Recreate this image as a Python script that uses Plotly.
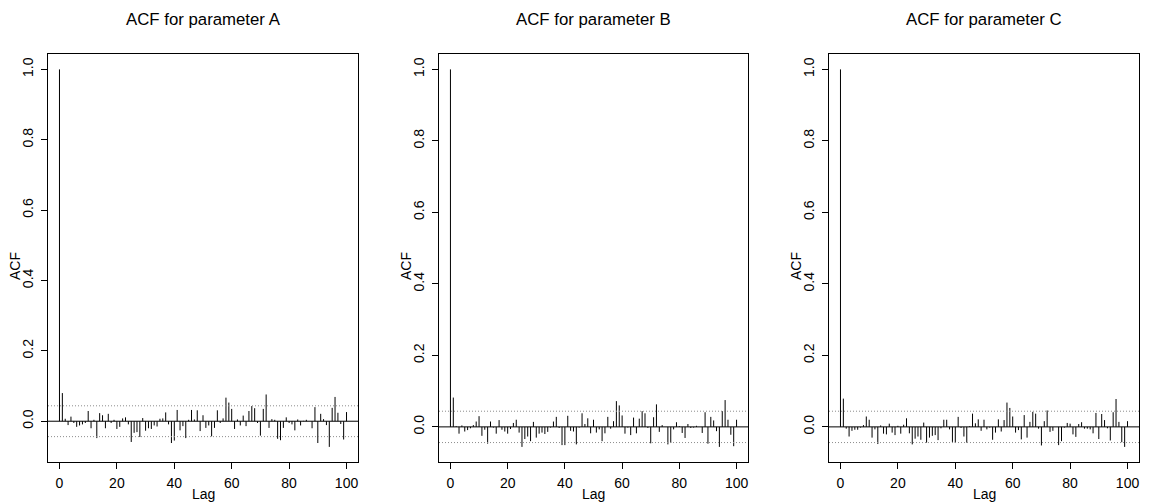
import plotly.graph_objects as go
import math

lags = list(range(0, 101))
n_obs = 2000

acf_a = [1.0, 0.080, 0.007, -0.011, 0.013, -0.005, -0.016, -0.012, -0.009, -0.005,
         0.029, -0.020, 0.004, -0.048, 0.023, 0.017, -0.020, 0.021, -0.005, 0.004,
         -0.022, -0.016, 0.008, 0.011, -0.009, -0.059, -0.033, -0.031, -0.045, 0.009,
         -0.027, -0.020, -0.022, -0.012, -0.015, 0.007, 0.008, 0.025, -0.009, -0.062,
         -0.055, 0.032, -0.026, -0.014, -0.048, 0.004, 0.032, 0.005, 0.031, -0.028,
         0.017, -0.019, -0.012, -0.043, -0.019, 0.031, -0.005, 0.008, 0.067, 0.053,
         0.035, -0.022, 0.005, -0.012, 0.016, -0.014, 0.029, 0.043, 0.037, -0.005,
         -0.041, 0.035, 0.076, -0.019, 0.006, 0.004, -0.050, -0.054, -0.019, 0.011,
         -0.005, -0.009, -0.026, 0.005, -0.012, 0.001, 0.004, 0.000, -0.020, 0.040,
         -0.062, 0.021, 0.006, -0.011, -0.073, 0.038, 0.069, 0.024, -0.008, -0.052,
         0.026]

acf_b = [1.0, 0.082, 0.002, -0.019, 0.004, -0.013, -0.009, -0.004, 0.005, 0.015,
         0.030, -0.025, -0.008, -0.047, 0.015, -0.002, -0.019, 0.019, -0.008, -0.013,
         -0.019, -0.006, 0.011, 0.020, -0.016, -0.056, -0.034, -0.027, -0.040, 0.014,
         -0.030, -0.019, -0.016, -0.020, -0.014, -0.002, 0.015, 0.028, -0.003, -0.051,
         -0.051, 0.031, -0.011, -0.013, -0.049, -0.002, 0.038, 0.008, 0.024, -0.018,
         0.020, -0.016, -0.007, -0.040, -0.018, 0.028, -0.005, 0.016, 0.072, 0.060,
         0.032, -0.019, -0.002, -0.023, 0.026, -0.018, 0.023, 0.044, 0.038, -0.003,
         -0.046, 0.027, 0.063, -0.014, 0.005, 0.000, -0.049, -0.045, -0.007, 0.013,
         0.002, -0.017, -0.031, 0.008, -0.003, -0.002, 0.003, 0.000, -0.017, 0.041,
         -0.047, 0.028, 0.018, -0.012, -0.056, 0.044, 0.075, 0.020, -0.022, -0.054,
         0.020]

acf_c = [1.0, 0.079, -0.005, -0.027, -0.011, -0.008, -0.008, -0.002, 0.005, 0.029,
         0.020, -0.030, -0.007, -0.048, 0.004, -0.019, -0.021, 0.009, -0.016, -0.023,
         0.003, -0.019, 0.006, 0.024, -0.018, -0.049, -0.033, -0.027, -0.036, 0.012,
         -0.044, -0.030, -0.025, -0.023, -0.037, -0.004, 0.020, 0.020, -0.007, -0.042,
         -0.045, 0.028, -0.003, -0.027, -0.044, 0.002, 0.037, 0.010, 0.021, -0.011,
         0.020, -0.007, -0.002, -0.036, -0.016, 0.021, -0.013, 0.019, 0.068, 0.053,
         0.029, -0.016, -0.009, -0.035, 0.033, -0.030, 0.014, 0.042, 0.037, -0.005,
         -0.052, 0.016, 0.046, -0.014, -0.011, 0.000, -0.051, -0.040, -0.002, 0.011,
         0.009, -0.021, -0.028, 0.008, 0.013, -0.005, -0.005, -0.007, -0.018, 0.039,
         -0.034, 0.036, 0.019, -0.004, -0.038, 0.041, 0.078, 0.014, -0.043, -0.056,
         0.016]

titles = ["ACF for parameter A", "ACF for parameter B", "ACF for parameter C"]
series = [acf_a, acf_b, acf_c]
x_ticks = [0, 20, 40, 60, 80, 100]
y_ticks = [0.0, 0.2, 0.4, 0.6, 0.8, 1.0]

W, H = 1150, 504
clim = 1.96 / math.sqrt(n_obs)
font = "Liberation Sans, Arial, Helvetica, sans-serif"

x_domains = [(48, 358), (439, 748), (829, 1139)]
y_top, y_bot = 54.3, 462.0

fig = go.Figure()
shapes = []
annotations = []

for i, (vals, title) in enumerate(zip(series, titles)):
    sfx = "" if i == 0 else str(i + 1)
    xs, ys = [], []
    for k, v in zip(lags, vals):
        xs += [k, k, None]
        ys += [0, v, None]
    fig.add_trace(go.Scatter(x=xs, y=ys, mode="lines",
                             line=dict(color="black", width=1),
                             xaxis="x" + sfx, yaxis="y" + sfx,
                             showlegend=False, hoverinfo="skip"))
    m = min(min(vals), -clim)
    top = max(max(vals), clim)
    span = top - m
    yr = [m - 0.04 * span, top + 0.04 * span]
    xspan = max(lags) - min(lags)
    xr = [min(lags) - 0.04 * xspan, max(lags) + 0.04 * xspan]

    dx = [x_domains[i][0] / W, x_domains[i][1] / W]
    dy = [(H - y_bot) / H, (H - y_top) / H]
    common = dict(showline=True, mirror=True, linecolor="black", linewidth=1,
                  ticks="outside", ticklen=6, tickwidth=1, tickcolor="black",
                  showgrid=False, zeroline=False,
                  tickfont=dict(family=font, size=14, color="black"))
    fig.update_layout(**{
        "xaxis" + sfx: dict(domain=dx, range=xr, tickvals=x_ticks,
                            anchor="y" + sfx, ticklabelstandoff=2, **common),
        "yaxis" + sfx: dict(domain=dy, range=yr, tickvals=y_ticks, tickformat=".1f",
                            tickangle=-90, anchor="x" + sfx, ticklabelstandoff=2,
                            **common),
    })
    xref = "x" + sfx + " domain"
    yref = "y" + sfx
    shapes.append(dict(type="line", xref=xref, yref=yref, x0=0, x1=1, y0=0, y1=0,
                       line=dict(color="black", width=1)))
    for c in (clim, -clim):
        shapes.append(dict(type="line", xref=xref, yref=yref, x0=0, x1=1, y0=c, y1=c,
                           line=dict(color="#8c8c8c", width=1, dash="1px,2px")))
    cx = (dx[0] + dx[1]) / 2
    annotations.append(dict(text=title, x=cx, y=1 - 20 / H, xref="paper", yref="paper",
                            showarrow=False, xanchor="center", yanchor="middle",
                            font=dict(family=font, size=16.8, color="black")))
    annotations.append(dict(text="Lag", x=cx, y=(H - 494) / H, xref="paper", yref="paper",
                            showarrow=False, xanchor="center", yanchor="middle",
                            font=dict(family=font, size=14, color="black")))
    annotations.append(dict(text="ACF", x=(x_domains[i][0] - 33) / W,
                            y=(H - 266) / H,
                            xref="paper", yref="paper", textangle=-90,
                            showarrow=False, xanchor="center", yanchor="middle",
                            font=dict(family=font, size=14, color="black")))

fig.update_layout(width=W, height=H, margin=dict(l=0, r=0, t=0, b=0),
                  paper_bgcolor="white", plot_bgcolor="white",
                  shapes=shapes, annotations=annotations)

fig.write_html("out.html")
